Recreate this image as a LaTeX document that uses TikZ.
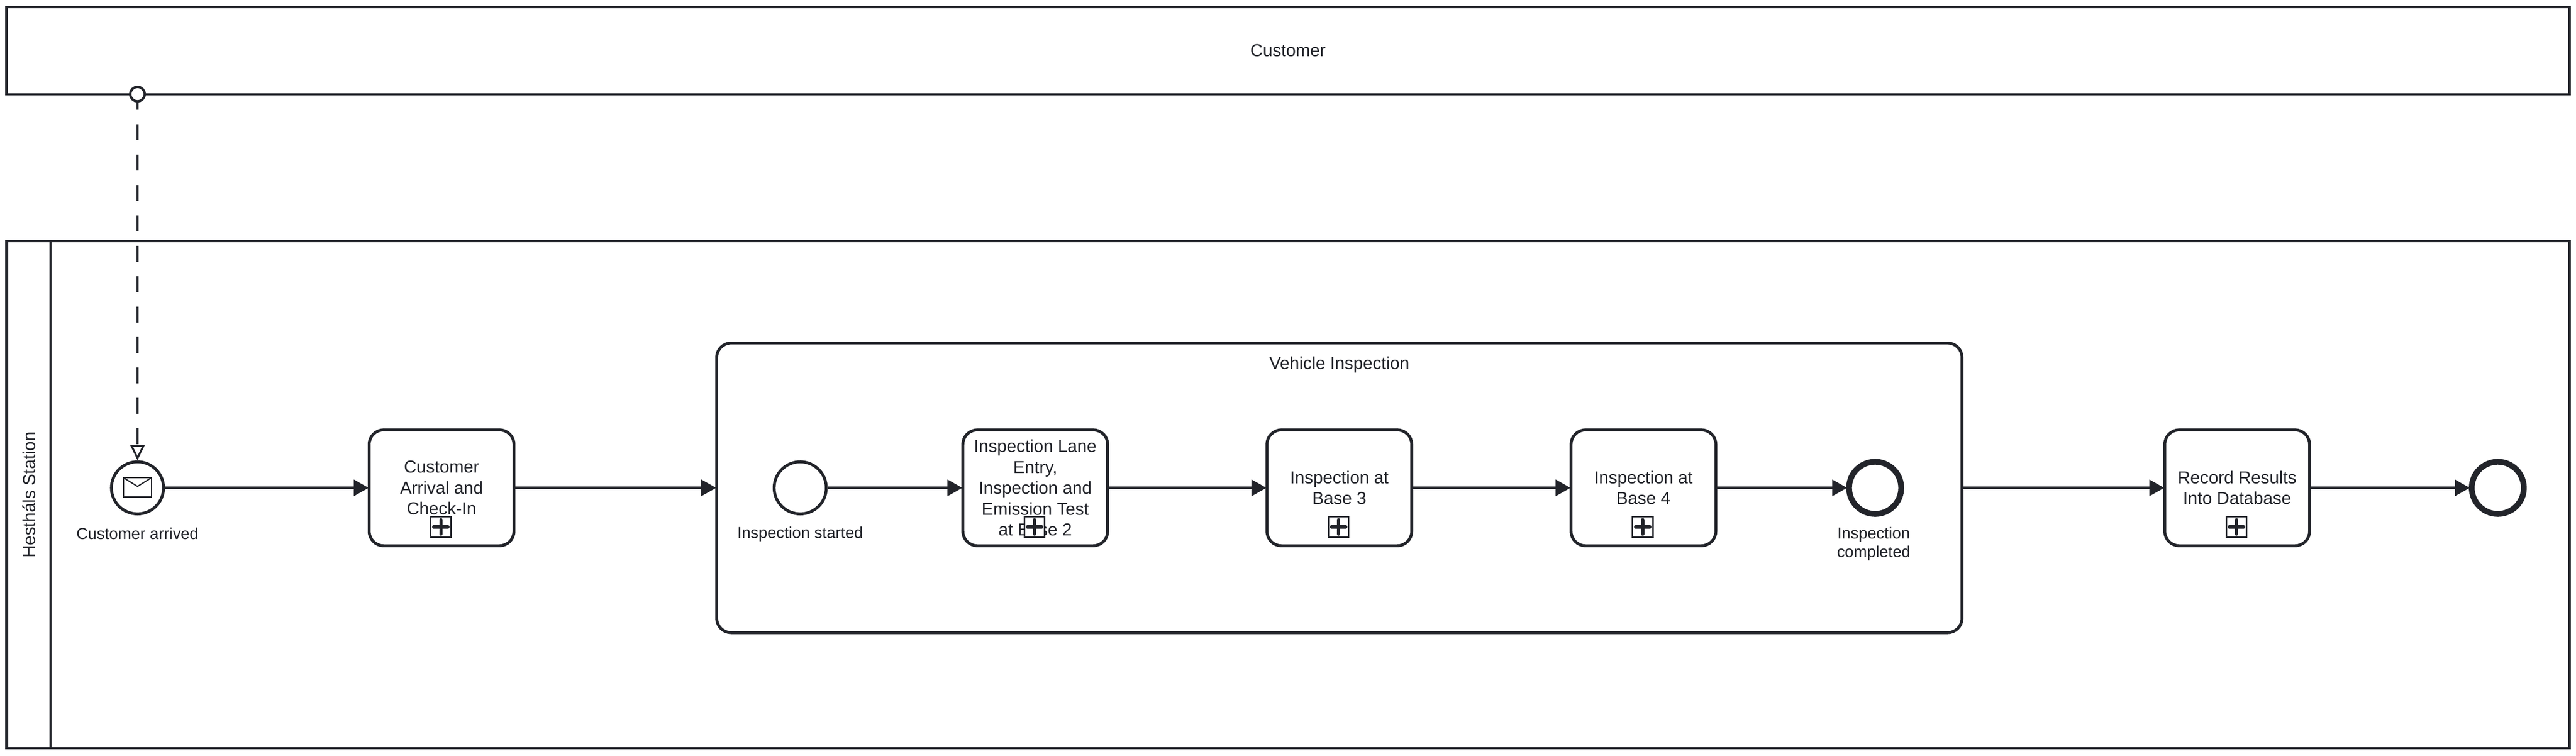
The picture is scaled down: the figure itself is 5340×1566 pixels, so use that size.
\documentclass[tikz,border=0pt]{standalone}
\usepackage{fontspec}
\setmainfont{Liberation Sans}
\usetikzlibrary{arrows.meta,positioning}
\definecolor{ink}{HTML}{22242A}
\newcommand{\tasktext}{\fontsize{10.24}{12.3}\selectfont}
\newcommand{\labeltext}{\fontsize{9.39}{11.1}\selectfont}

\begin{document}
\begin{tikzpicture}[x=0.01cm,y=-0.01cm,on grid,color=ink]
\tikzstyle{poolbox}=[draw,fill=white,line width=0.045cm,minimum width=53.1cm,minimum height=1.8cm,inner sep=0,text=ink,font=\tasktext];
\tikzstyle{lanebox}=[draw,line width=0.04cm,minimum width=10.5cm,minimum height=0.9cm,inner sep=0,rotate=90,text=ink,font=\tasktext];
\tikzstyle{taskbox}=[draw,fill=white,line width=0.06cm,rounded corners=0.3cm,minimum width=3cm,minimum height=2.4cm,inner sep=0,align=center,text=ink,font=\tasktext];
\tikzstyle{groupbox}=[draw,fill=white,line width=0.06cm,rounded corners=0.3cm,minimum width=25.8cm,minimum height=6cm,inner sep=0];
\tikzstyle{startev}=[draw,fill=white,shape=circle,line width=0.06cm,minimum size=1.08cm,inner sep=0];
\tikzstyle{endev}=[draw,fill=white,shape=circle,line width=0.12cm,minimum size=1.08cm,inner sep=0];
\tikzstyle{evlabel}=[align=center,inner sep=0,text=ink,font=\labeltext];
\tikzstyle{flow}=[line width=0.06cm,shorten >=-0.02cm,-{Triangle[length=0.31cm,width=0.33cm]}];
\tikzstyle{msgflow}=[line width=0.04cm,dash pattern=on 0.33cm off 0.3cm,dash phase=0.183cm,-{Triangle[open,fill=white,length=0.32cm,width=0.3cm]}];
\tikzstyle{msgdot}=[draw,fill=white,shape=circle,line width=0.05cm,minimum size=0.3cm,inner sep=0];
\tikzstyle{plusbox}=[draw,fill=white,line width=0.03cm,minimum size=0.42cm,inner sep=0,path picture={
	\draw[line width=0.065cm,line cap=round] ([xshift=-0.15cm]path picture bounding box.center) -- ([xshift=0.15cm]path picture bounding box.center);
	\draw[line width=0.065cm,line cap=round] ([yshift=-0.15cm]path picture bounding box.center) -- ([yshift=0.15cm]path picture bounding box.center);
}];
\tikzstyle{mailbox}=[draw,fill=white,line width=0.025cm,minimum width=0.58cm,minimum height=0.4cm,inner sep=0,path picture={
	\draw[line width=0.025cm] (path picture bounding box.north west) -- ([yshift=-0.18cm]path picture bounding box.north) -- (path picture bounding box.north east);
}];

\useasboundingbox (0,0) rectangle (5340,1566);

\node[poolbox] (customer) at (2670,105) {Customer};
\node[poolbox,minimum height=10.5cm] (station) at (2670,1025.5) {};
\node[lanebox] (stationhead) at (60,1025.5) {Hesth\'als Station};

\node[startev] (arrived) at (285,1011) {};
\node[mailbox] (mail) at (285,1010) {};
\node[evlabel,below=0.95cm of arrived] (arrivedlabel) {Customer arrived};
\node[taskbox,right=6.3cm of arrived] (checkin) {Customer\\Arrival and\\Check-In};
\node[groupbox,right=18.6cm of checkin] (vehicle) {};
\node[evlabel,above=2.55cm of vehicle,font=\tasktext] (vehiclelabel) {Vehicle Inspection};
\node[taskbox] (base3) at (vehicle) {Inspection at\\Base 3};
\node[taskbox,left=6.3cm of base3] (base2) {Inspection Lane\\Entry,\\Inspection and\\Emission Test\\at Base 2};
\node[startev,left=4.87cm of base2] (started) {};
\node[evlabel,below=0.96cm of started] (startedlabel) {Inspection started};
\node[taskbox,right=6.3cm of base3] (base4) {Inspection at\\Base 4};
\node[endev,right=4.8cm of base4] (completed) {};
\node[evlabel,below=1.16cm of completed,xshift=-0.03cm] (completedlabel) {Inspection\\completed};
\node[taskbox,right=18.6cm of vehicle] (record) {Record Results\\Into Database};
\node[endev,right=5.4cm of record] (finish) {};

\node[plusbox,below=0.81cm of checkin,xshift=-0.015cm] (plus1) {};
\node[plusbox,below=0.81cm of base2,xshift=-0.015cm] (plus2) {};
\node[plusbox,below=0.81cm of base3,xshift=-0.015cm] (plus3) {};
\node[plusbox,below=0.81cm of base4,xshift=-0.015cm] (plus4) {};
\node[plusbox,below=0.81cm of record,xshift=-0.015cm] (plus5) {};

\node[msgdot] (msgstart) at (285,195) {};
\draw[msgflow] (msgstart) -- (arrived);

\draw[flow] (arrived) -- (checkin);
\draw[flow] (checkin) -- (vehicle);
\draw[flow] (started) -- (base2);
\draw[flow] (base2) -- (base3);
\draw[flow] (base3) -- (base4);
\draw[flow] (base4) -- (completed);
\draw[flow] (vehicle) -- (record);
\draw[flow] (record) -- (finish);
\end{tikzpicture}
\end{document}
